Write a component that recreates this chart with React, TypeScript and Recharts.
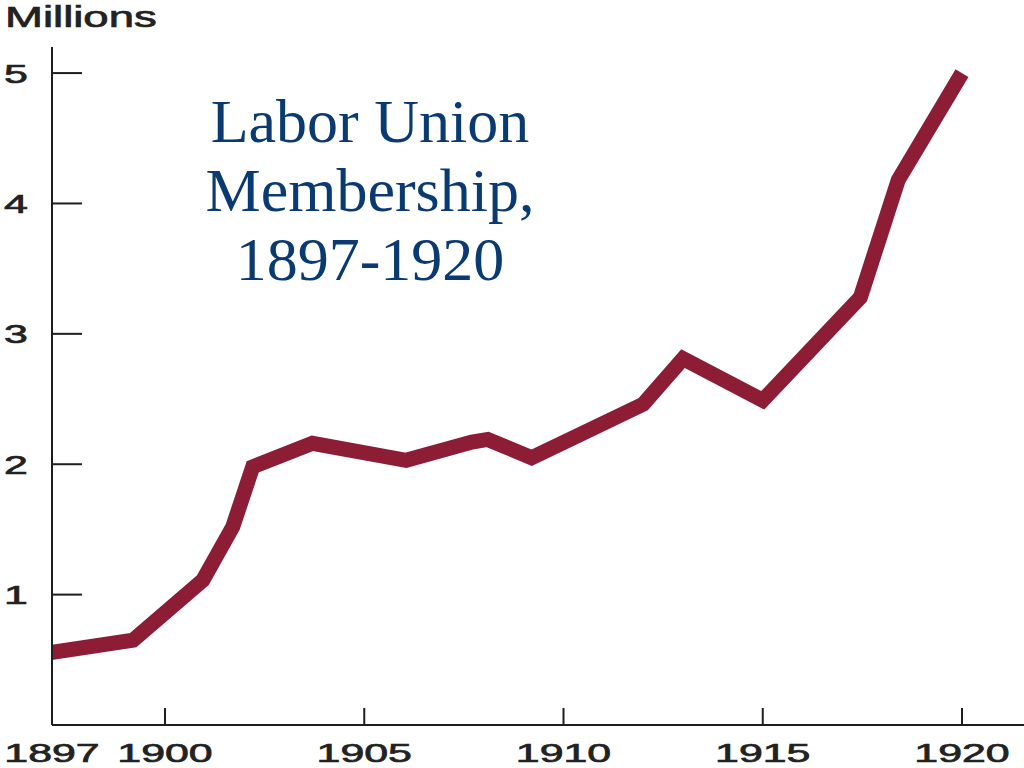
import { LineChart, Line, XAxis, YAxis } from "recharts";

// union membership in millions
const years = [
  1897, 1899.2, 1900.95, 1901.7, 1902.2, 1903.7, 1906.05, 1907.7, 1908.1,
  1909.2, 1912, 1913, 1915, 1917.45, 1918.4, 1920,
];
const members = [
  0.55, 0.65, 1.11, 1.52, 1.98, 2.16, 2.03, 2.17, 2.19, 2.05, 2.46, 2.81,
  2.49, 3.28, 4.18, 5.0,
];

const xStart = 1897.164;
const xEnd = 1921.556;
const xTicks = [xStart, 1900, 1905, 1910, 1915, 1920];
const yTicks = [1, 2, 3, 4, 5];
const titleLines = ["Labor Union", "Membership,", "1897-1920"];

const data = years.map((year, i) => ({ year, value: members[i] }));

const AXIS = "#1e1e1e";
const LABEL = "#222";
const LINE = "#8d1c35";
const SANS = "'Liberation Sans', Arial, sans-serif";

function XTick({ x, y, payload }: any) {
  const first = payload.value < 1898;
  return (
    <g>
      {!first && <line x1={x} x2={x} y1={y} y2={y - 17} stroke={AXIS} strokeWidth={2} />}
      <text
        transform={`translate(${x},${y + 37}) scale(1.65,1)`}
        textAnchor="middle"
        fontFamily={SANS}
        fontSize={26}
        fill={LABEL}
        stroke={LABEL}
        strokeWidth={0.7}
      >
        {first ? "1897" : payload.value}
      </text>
    </g>
  );
}

function YTick({ x, y, payload }: any) {
  return (
    <g>
      <line x1={x} x2={x + 30} y1={y} y2={y} stroke={AXIS} strokeWidth={2} />
      <text
        transform={`translate(16,${y + 9.5}) scale(1.65,1)`}
        textAnchor="middle"
        fontFamily={SANS}
        fontSize={26}
        fill={LABEL}
        stroke={LABEL}
        strokeWidth={0.7}
      >
        {payload.value}
      </text>
    </g>
  );
}

export default function App() {
  return (
    <div style={{ position: "absolute", left: 0, top: 0, width: 1024, height: 768, background: "#fff" }}>
      <LineChart
        width={1024}
        height={768}
        data={data}
        margin={{ top: 47, right: 0, bottom: 0, left: 0 }}
      >
        <XAxis
          dataKey="year"
          type="number"
          domain={[xStart, xEnd]}
          allowDataOverflow
          ticks={xTicks}
          interval={0}
          height={43}
          tickSize={0}
          tickMargin={0}
          tickLine={false}
          axisLine={{ stroke: AXIS, strokeWidth: 2 }}
          tick={<XTick />}
        />
        <YAxis
          type="number"
          domain={[0, 5.2]}
          ticks={yTicks}
          interval={0}
          width={52}
          tickSize={0}
          tickMargin={0}
          tickLine={false}
          axisLine={{ stroke: AXIS, strokeWidth: 2 }}
          tick={<YTick />}
        />
        <Line
          type="linear"
          dataKey="value"
          stroke={LINE}
          strokeWidth={15}
          dot={false}
          activeDot={false}
          isAnimationActive={false}
        />
      </LineChart>
      <svg
        width={1024}
        height={768}
        style={{ position: "absolute", left: 0, top: 0, pointerEvents: "none" }}
      >
        <text
          transform="translate(5,27) scale(1.57,1)"
          fontFamily={SANS}
          fontSize={29}
          fill={LABEL}
          stroke={LABEL}
          strokeWidth={0.7}
        >
          Millions
        </text>
        {titleLines.map((t, i) => (
          <text
            key={t}
            x={370}
            y={142 + i * 69}
            textAnchor="middle"
            fontFamily="'Liberation Serif', 'Times New Roman', serif"
            fontSize={62}
            fill="#0a3a72"
          >
            {t}
          </text>
        ))}
      </svg>
    </div>
  );
}
